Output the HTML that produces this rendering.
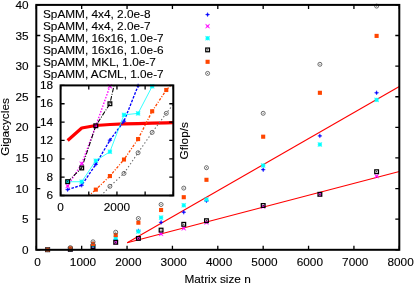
<!DOCTYPE html>
<html><head><meta charset="utf-8"><title>chart</title>
<style>
html,body{margin:0;padding:0;background:#fff;}
body{width:415px;height:285px;overflow:hidden;}
svg{display:block;will-change:transform;opacity:0.999;}
text{font-family:"Liberation Sans",sans-serif;font-size:11.8px;fill:#000;stroke:#000;stroke-width:0.12px;}
</style></head><body>
<svg width="415" height="285" viewBox="0 0 415 285">
<rect x="0" y="0" width="415" height="285" fill="#fff"/>
<defs>
<g id="mPlus"><path d="M-2.2 0L-0.6 -0.6L0 -2.2L0.6 -0.6L2.2 0L0.6 0.6L0 2.2L-0.6 0.6Z" fill="#0000ff" stroke="#0000ff" stroke-width="0.3"/></g>
<g id="mX"><path d="M-2.1 -2.1L0 -0.8L2.1 -2.1L0.8 0L2.1 2.1L0 0.8L-2.1 2.1L-0.8 0Z" fill="#ff00ff" stroke="#ff00ff" stroke-width="0.35"/></g>
<g id="mStar"><path d="M-2.2 0L-0.6 -0.6L0 -2.2L0.6 -0.6L2.2 0L0.6 0.6L0 2.2L-0.6 0.6Z" fill="#00ffff" stroke="#00ffff" stroke-width="0.3"/><path d="M-2.05 -2.05L0 -1.2L2.05 -2.05L1.2 0L2.05 2.05L0 1.2L-2.05 2.05L-1.2 0Z" fill="#00ffff" stroke="#00ffff" stroke-width="0.4"/></g>
<g id="mSq"><rect x="-1.85" y="-1.85" width="3.7" height="3.7" stroke="#000" stroke-width="1.25" fill="none"/><rect x="-0.5" y="-0.5" width="1" height="1" fill="#000"/></g>
<g id="mFSq"><rect x="-2.05" y="-2.05" width="4.1" height="4.1" fill="#ff4500"/></g>
<g id="mCirc"><circle cx="0" cy="0" r="2.0" stroke="#5a5a5a" stroke-width="0.9" fill="none"/><rect x="-0.5" y="-0.5" width="1" height="1" fill="#5a5a5a"/></g>
<clipPath id="cm"><rect x="36.3" y="4.9" width="363.0" height="244.9"/></clipPath>
<clipPath id="ci"><rect x="60.6" y="85.4" width="112.70000000000002" height="110.1"/></clipPath>
</defs>
<path d="M36.30 249.80h4M399.30 249.80h-4M36.30 219.19h4M399.30 219.19h-4M36.30 188.58h4M399.30 188.58h-4M36.30 157.96h4M399.30 157.96h-4M36.30 127.35h4M399.30 127.35h-4M36.30 96.74h4M399.30 96.74h-4M36.30 66.12h4M399.30 66.12h-4M36.30 35.51h4M399.30 35.51h-4M36.30 4.90h4M399.30 4.90h-4M36.30 249.80v-4M36.30 4.90v4M81.67 249.80v-4M81.67 4.90v4M127.05 249.80v-4M127.05 4.90v4M172.43 249.80v-4M172.43 4.90v4M217.80 249.80v-4M217.80 4.90v4M263.18 249.80v-4M263.18 4.90v4M308.55 249.80v-4M308.55 4.90v4M353.93 249.80v-4M353.93 4.90v4M399.30 249.80v-4M399.30 4.90v4" stroke="#000" stroke-width="1.3" fill="none"/>
<text x="28.6" y="253.90" text-anchor="end">0</text>
<text x="28.6" y="223.29" text-anchor="end">5</text>
<text x="28.6" y="192.68" text-anchor="end">10</text>
<text x="28.6" y="162.06" text-anchor="end">15</text>
<text x="28.6" y="131.45" text-anchor="end">20</text>
<text x="28.6" y="100.84" text-anchor="end">25</text>
<text x="28.6" y="70.22" text-anchor="end">30</text>
<text x="28.6" y="39.61" text-anchor="end">35</text>
<text x="28.6" y="9.00" text-anchor="end">40</text>
<text x="37.60" y="266.0" text-anchor="middle">0</text>
<text x="82.97" y="266.0" text-anchor="middle">1000</text>
<text x="128.35" y="266.0" text-anchor="middle">2000</text>
<text x="173.73" y="266.0" text-anchor="middle">3000</text>
<text x="219.10" y="266.0" text-anchor="middle">4000</text>
<text x="264.48" y="266.0" text-anchor="middle">5000</text>
<text x="309.85" y="266.0" text-anchor="middle">6000</text>
<text x="355.23" y="266.0" text-anchor="middle">7000</text>
<text x="400.60" y="266.0" text-anchor="middle">8000</text>
<text x="217.6" y="283.2" text-anchor="middle">Matrix size n</text>
<text transform="translate(8.6,127) rotate(-90)" text-anchor="middle">Gigacycles</text>
<g clip-path="url(#cm)">
<path d="M127.2 242.8L399.30 86.6" stroke="#ff0000" stroke-width="1.1" fill="none"/>
<path d="M127.2 242.8L399.30 171.5" stroke="#ff0000" stroke-width="1.1" fill="none"/>
</g>
<g>
<use href="#mPlus" x="47.64" y="249.70"/><use href="#mPlus" x="70.33" y="249.10"/><use href="#mPlus" x="93.02" y="246.00"/><use href="#mPlus" x="115.71" y="239.30"/><use href="#mPlus" x="138.39" y="230.90"/><use href="#mPlus" x="161.08" y="222.30"/><use href="#mPlus" x="183.77" y="212.20"/><use href="#mPlus" x="206.46" y="200.80"/><use href="#mPlus" x="263.18" y="169.70"/><use href="#mPlus" x="319.89" y="135.90"/><use href="#mPlus" x="376.61" y="92.80"/>
<use href="#mX" x="47.64" y="249.70"/><use href="#mX" x="70.33" y="249.30"/><use href="#mX" x="93.02" y="246.60"/><use href="#mX" x="115.71" y="242.50"/><use href="#mX" x="138.39" y="238.40"/><use href="#mX" x="161.08" y="233.90"/><use href="#mX" x="183.77" y="228.30"/><use href="#mX" x="206.46" y="222.50"/><use href="#mX" x="263.18" y="206.60"/><use href="#mX" x="319.89" y="194.30"/><use href="#mX" x="376.61" y="176.20"/>
<use href="#mStar" x="47.64" y="249.70"/><use href="#mStar" x="70.33" y="249.00"/><use href="#mStar" x="93.02" y="245.50"/><use href="#mStar" x="115.71" y="238.00"/><use href="#mStar" x="138.39" y="231.50"/><use href="#mStar" x="161.08" y="217.60"/><use href="#mStar" x="183.77" y="205.30"/><use href="#mStar" x="206.46" y="199.50"/><use href="#mStar" x="263.18" y="165.50"/><use href="#mStar" x="319.89" y="144.50"/><use href="#mStar" x="376.61" y="99.90"/>
<use href="#mSq" x="47.64" y="249.70"/><use href="#mSq" x="70.33" y="249.30"/><use href="#mSq" x="93.02" y="246.60"/><use href="#mSq" x="115.71" y="242.30"/><use href="#mSq" x="138.39" y="238.40"/><use href="#mSq" x="161.08" y="230.10"/><use href="#mSq" x="183.77" y="224.30"/><use href="#mSq" x="206.46" y="220.70"/><use href="#mSq" x="263.18" y="205.50"/><use href="#mSq" x="319.89" y="194.30"/><use href="#mSq" x="376.61" y="171.70"/>
<use href="#mFSq" x="47.64" y="249.70"/><use href="#mFSq" x="70.33" y="248.30"/><use href="#mFSq" x="93.02" y="243.80"/><use href="#mFSq" x="115.71" y="235.10"/><use href="#mFSq" x="138.39" y="222.70"/><use href="#mFSq" x="161.08" y="210.00"/><use href="#mFSq" x="183.77" y="197.20"/><use href="#mFSq" x="206.46" y="179.80"/><use href="#mFSq" x="263.18" y="136.70"/><use href="#mFSq" x="319.89" y="92.80"/><use href="#mFSq" x="376.61" y="35.90"/>
<use href="#mCirc" x="47.64" y="249.60"/><use href="#mCirc" x="70.33" y="247.60"/><use href="#mCirc" x="93.02" y="241.80"/><use href="#mCirc" x="115.71" y="232.20"/><use href="#mCirc" x="138.39" y="218.50"/><use href="#mCirc" x="161.08" y="204.50"/><use href="#mCirc" x="183.77" y="188.10"/><use href="#mCirc" x="206.46" y="167.70"/><use href="#mCirc" x="263.18" y="113.30"/><use href="#mCirc" x="319.89" y="64.30"/><use href="#mCirc" x="376.61" y="6.10"/>
</g>
<text x="43.0" y="18.45">SpAMM, 4x4, 2.0e-8</text><use href="#mPlus" x="207.6" y="14.60"/>
<text x="43.0" y="30.30">SpAMM, 4x4, 2.0e-7</text><use href="#mX" x="207.6" y="26.20"/>
<text x="43.0" y="42.15">SpAMM, 16x16, 1.0e-7</text><use href="#mStar" x="207.6" y="38.20"/>
<text x="43.0" y="54.00">SpAMM, 16x16, 1.0e-6</text><use href="#mSq" x="207.6" y="49.90"/>
<text x="43.0" y="65.85">SpAMM, MKL, 1.0e-7</text><use href="#mFSq" x="207.6" y="61.80"/>
<text x="43.0" y="77.70">SpAMM, ACML, 1.0e-7</text><use href="#mCirc" x="207.6" y="73.40"/>
<rect x="60.6" y="85.4" width="112.70000000000002" height="110.1" fill="#fff"/>
<g clip-path="url(#ci)">
<path d="M67.64 140.45L81.73 127.97L95.82 125.49L109.91 124.49L123.99 123.93L138.08 123.57L152.17 123.20L166.26 122.83L173.30 122.56" stroke="#ff0000" stroke-width="3.2" fill="none" stroke-linejoin="round"/>
<path d="M67.64 189.63L81.73 185.22L95.82 164.31L109.91 140.17L123.99 121.18L138.08 85.86L152.17 48.70L166.26 21.17L201.48 -24.70" stroke="#0000ff" stroke-width="1.35" fill="none" stroke-dasharray="2.6 1.4"/>
<path d="M67.64 186.05L81.73 163.75L95.82 125.77L109.91 86.32L123.99 30.35L138.08 -6.35L152.17 -24.70L166.26 -43.05L201.48 -61.40" stroke="#ff00ff" stroke-width="1.35" fill="none" stroke-dasharray="1.5 1.5"/>
<path d="M67.64 181.74L81.73 181.74L95.82 160.73L109.91 151.74L123.99 114.85L138.08 113.38L152.17 86.32L166.26 76.23L201.48 48.70" stroke="#00ffff" stroke-width="0.8" fill="none"/>
<path d="M67.64 181.65L81.73 167.97L95.82 125.77L109.91 103.75L123.99 41.36L138.08 21.17L152.17 2.83L166.26 -6.35L201.48 -24.70" stroke="#000" stroke-width="1.05" fill="none" stroke-dasharray="4.5 1.5 1 1.5"/>
<path d="M67.64 213.85L81.73 201.92L95.82 189.63L109.91 176.05L123.99 159.53L138.08 139.07L152.17 111.27L166.26 89.99L201.48 53.29" stroke="#ff4500" stroke-width="1.3" fill="none" stroke-dasharray="2.5 1.6 1 1.6"/>
<path d="M67.64 223.03L81.73 213.85L95.82 201.46L109.91 186.32L123.99 173.39L138.08 152.74L152.17 132.38L166.26 113.38L201.48 67.97" stroke="#6a6a6a" stroke-width="1.1" fill="none" stroke-dasharray="1.4 2.2"/>
</g>
<use href="#mPlus" x="67.64" y="189.63"/><use href="#mPlus" x="81.73" y="185.22"/><use href="#mPlus" x="95.82" y="164.31"/><use href="#mPlus" x="109.91" y="140.17"/><use href="#mPlus" x="123.99" y="121.18"/><use href="#mPlus" x="138.08" y="85.86"/>
<use href="#mX" x="67.64" y="186.05"/><use href="#mX" x="81.73" y="163.75"/><use href="#mX" x="95.82" y="125.77"/><use href="#mX" x="109.91" y="86.32"/>
<use href="#mStar" x="67.64" y="181.74"/><use href="#mStar" x="81.73" y="181.74"/><use href="#mStar" x="95.82" y="160.73"/><use href="#mStar" x="109.91" y="151.74"/><use href="#mStar" x="123.99" y="114.85"/><use href="#mStar" x="138.08" y="113.38"/><use href="#mStar" x="152.17" y="86.32"/>
<use href="#mSq" x="67.64" y="181.65"/><use href="#mSq" x="81.73" y="167.97"/><use href="#mSq" x="95.82" y="125.77"/><use href="#mSq" x="109.91" y="103.75"/>
<use href="#mFSq" x="95.82" y="189.63"/><use href="#mFSq" x="109.91" y="176.05"/><use href="#mFSq" x="123.99" y="159.53"/><use href="#mFSq" x="138.08" y="139.07"/><use href="#mFSq" x="152.17" y="111.27"/><use href="#mFSq" x="166.26" y="89.99"/>
<use href="#mCirc" x="109.91" y="186.32"/><use href="#mCirc" x="123.99" y="173.39"/><use href="#mCirc" x="138.08" y="152.74"/><use href="#mCirc" x="152.17" y="132.38"/><use href="#mCirc" x="166.26" y="113.38"/>
<path d="M60.60 195.50h4M173.30 195.50h-4M60.60 177.15h4M173.30 177.15h-4M60.60 158.80h4M173.30 158.80h-4M60.60 140.45h4M173.30 140.45h-4M60.60 122.10h4M173.30 122.10h-4M60.60 103.75h4M173.30 103.75h-4M60.60 85.40h4M173.30 85.40h-4M60.60 195.50v-4M60.60 85.40v4M88.78 195.50v-4M88.78 85.40v4M116.95 195.50v-4M116.95 85.40v4M145.13 195.50v-4M145.13 85.40v4M173.30 195.50v-4M173.30 85.40v4" stroke="#000" stroke-width="1.3" fill="none"/>
<rect x="60.6" y="85.4" width="112.70000000000002" height="110.1" fill="none" stroke="#000" stroke-width="2"/>
<text x="53.0" y="199.10" text-anchor="end">6</text>
<text x="53.0" y="180.75" text-anchor="end">8</text>
<text x="53.0" y="162.40" text-anchor="end">10</text>
<text x="53.0" y="144.05" text-anchor="end">12</text>
<text x="53.0" y="125.70" text-anchor="end">14</text>
<text x="53.0" y="107.35" text-anchor="end">16</text>
<text x="53.0" y="89.00" text-anchor="end">18</text>
<text x="60.60" y="211.2" text-anchor="middle">0</text>
<text x="116.95" y="211.2" text-anchor="middle">2000</text>
<text transform="translate(187.6,140.8) rotate(-90)" text-anchor="middle">Gflop/s</text>
<rect x="36.3" y="4.9" width="363.0" height="244.9" fill="none" stroke="#000" stroke-width="2"/>
</svg>
</body></html>
